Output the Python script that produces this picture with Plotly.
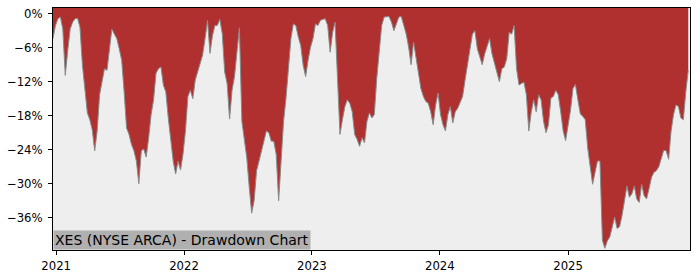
import pandas as pd
import plotly.graph_objects as go

# Weekly drawdown (%), starting 2020-12-23
dd_2021 = [-4.4, -2.1, -0.9, -0.6, -2.7, -10.9, -6.5, -2.7, -1.5, -0.9,
           -0.8, -2.4, -9.1, -14.0, -17.5, -18.7, -20.5, -24.2, -20.7, -14.3,
           -12.0, -9.7, -10.0, -5.9, -2.7, -3.6, -4.4, -6.2, -8.2, -13.8,
           -20.2, -21.3, -23.1, -24.2, -26.0, -30.0, -24.2, -23.9, -25.3, -21.9,
           -17.8, -15.2, -10.5, -9.7, -9.4, -12.6, -13.8, -18.4, -22.5, -26.0,
           -28.3, -26.0, -27.6]
dd_2022 = [-24.8, -20.7, -14.6, -13.5, -15.0, -11.7, -10.3, -9.1, -7.3, -4.4,
           -1.2, -7.0, -3.9, -2.1, -2.1, -1.0, -3.5, -10.3, -12.3, -18.6,
           -13.5, -11.1, -7.0, -2.5, -19.0, -21.9, -25.4, -30.6, -35.2, -33.0,
           -27.7, -26.0, -24.2, -22.5, -20.7, -21.0, -22.5, -22.5, -24.8, -33.0,
           -26.6, -19.0, -14.9, -9.7, -4.4, -1.8, -2.1, -4.1, -5.6, -9.1,
           -11.1, -8.2]
dd_2023 = [-5.9, -4.4, -1.8, -2.1, -1.2, -1.0, -0.9, -2.1, -6.8, -3.3,
           -1.5, -11.4, -21.3, -18.7, -16.4, -15.2, -15.8, -17.3, -21.3, -22.2,
           -23.4, -21.9, -22.8, -19.0, -17.5, -18.4, -17.8, -11.4, -6.2, -2.1,
           -0.6, -0.5, -0.5, -1.5, -3.0, -1.8, -0.6, -0.5, -2.1, -3.6,
           -5.9, -9.0, -5.0, -7.9, -10.5, -13.2, -14.6, -15.5, -15.8, -17.3,
           -19.6, -16.1]
dd_2024 = [-14.0, -17.8, -19.6, -20.7, -17.8, -16.4, -19.3, -17.3, -16.7, -15.5,
           -14.6, -11.7, -9.1, -6.8, -3.6, -3.0, -6.2, -7.6, -9.0, -7.1,
           -5.6, -4.4, -7.1, -8.8, -10.5, -12.0, -9.7, -9.4, -7.9, -3.3,
           -3.6, -2.1, -9.7, -12.6, -12.3, -12.1, -14.3, -20.7, -17.3, -15.2,
           -17.3, -14.3, -15.2, -19.0, -21.0, -19.6, -14.9, -14.6, -13.5, -14.3,
           -17.3, -20.7]
dd_2025 = [-22.4, -19.6, -17.0, -13.2, -12.5, -15.2, -17.7, -18.1, -18.7, -23.7,
           -27.2, -30.1, -28.0, -26.0, -26.0, -40.0, -41.4, -40.1, -39.4, -37.6,
           -35.9, -37.9, -37.6, -35.6, -33.0, -30.4, -32.4, -31.8, -30.4, -32.7,
           -33.3, -30.1, -32.1, -32.7, -30.9, -28.9, -28.0, -27.7, -27.0, -25.3,
           -24.1, -24.2, -25.7, -20.7, -17.8, -16.1, -16.4, -18.4, -18.7, -13.8,
           -10.0]

drawdown = dd_2021 + dd_2022 + dd_2023 + dd_2024 + dd_2025
dates = pd.date_range("2020-12-23", periods=len(drawdown), freq="7D")

y_ticks = [0, -6, -12, -18, -24, -30, -36]
y_labels = ["0%" if v == 0 else "\u2212%d%%" % abs(v) for v in y_ticks]
x_years = ["2021", "2022", "2023", "2024", "2025"]
title_text = "XES (NYSE ARCA) - Drawdown Chart"

Y_TOP, Y_BOTTOM = 1.0, -41.7
FILL = "#B03030"
BG = "#EEEEEE"
FONT = "DejaVu Sans"

fig = go.Figure()
fig.add_trace(go.Scatter(x=dates, y=[Y_TOP] * len(drawdown), mode="lines",
                         line=dict(width=0, color=FILL), hoverinfo="skip",
                         showlegend=False))
fig.add_trace(go.Scatter(x=dates, y=drawdown, mode="lines", fill="tonexty",
                         fillcolor=FILL, line=dict(color="#8A8A8A", width=1),
                         showlegend=False))

fig.add_annotation(x=0, y=0, xref="paper", yref="paper", xanchor="left",
                   yanchor="bottom", text=title_text, showarrow=False,
                   bgcolor="#B0B0B0", borderpad=1,
                   font=dict(family=FONT, size=14, color="black"))

fig.update_layout(
    width=700, height=280,
    margin=dict(l=53, r=10, t=7, b=28),
    paper_bgcolor="white", plot_bgcolor=BG,
    font=dict(family=FONT, size=11.7, color="black"),
    showlegend=False,
)
fig.update_xaxes(
    range=[dates[0], dates[-1] + pd.Timedelta(days=5)],
    tickvals=[pd.Timestamp(y + "-01-01") for y in x_years], ticktext=x_years,
    ticks="outside", ticklen=4, tickcolor="black", showgrid=False, zeroline=False,
    showline=True, linecolor="black", linewidth=1, mirror=True,
    ticklabelstandoff=1,
)
fig.update_yaxes(
    range=[Y_BOTTOM, Y_TOP], tickvals=y_ticks, ticktext=y_labels,
    ticks="outside", ticklen=4, tickcolor="black", showgrid=False, zeroline=False,
    showline=True, linecolor="black", linewidth=1, mirror=True,
    ticklabelstandoff=3,
)

fig.write_html("out.html")
